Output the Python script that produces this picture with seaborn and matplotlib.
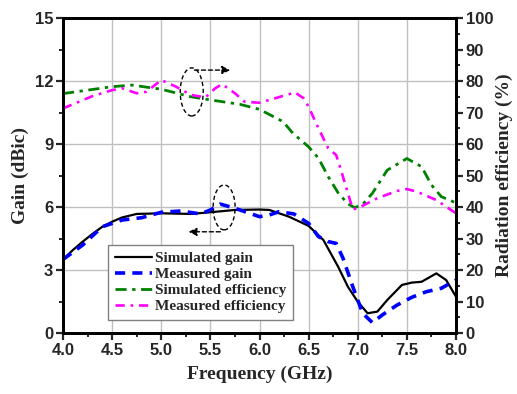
import matplotlib
matplotlib.use("Agg")
import matplotlib.pyplot as plt
import seaborn as sns
import numpy as np
import pandas as pd
from matplotlib.patches import Ellipse
from matplotlib.lines import Line2D
from matplotlib.ticker import MultipleLocator

# ---- data ----
sim_gain_f = [4.0, 4.1, 4.2, 4.3, 4.4, 4.5, 4.6, 4.75, 5.0, 5.3, 5.5, 5.75, 6.0, 6.1, 6.3,
              6.5, 6.65, 6.8, 6.9, 7.0, 7.1, 7.2, 7.3, 7.45, 7.55, 7.65, 7.8, 7.9, 8.0]
sim_gain = [3.5, 3.95, 4.35, 4.72, 5.06, 5.3, 5.5, 5.67, 5.7, 5.67, 5.75, 5.86, 5.88, 5.86, 5.54,
            5.1, 4.43, 3.16, 2.2, 1.49, 0.94, 1.02, 1.57, 2.29, 2.4, 2.44, 2.84, 2.52, 1.73]

meas_gain_f = [4.0, 4.2, 4.4, 4.6, 4.8, 5.0, 5.2, 5.4, 5.5, 5.6, 5.75, 5.9, 6.0, 6.1, 6.2, 6.35,
               6.5, 6.6, 6.7, 6.78, 6.85, 6.95, 7.05, 7.15, 7.25, 7.4, 7.55, 7.7, 7.85, 8.0]
meas_gain = [3.5, 4.19, 5.06, 5.38, 5.49, 5.75, 5.81, 5.67, 5.86, 6.14, 5.94, 5.7, 5.54, 5.62, 5.78, 5.67,
             5.22, 4.59, 4.35, 4.27, 3.56, 2.2, 0.94, 0.49, 0.86, 1.33, 1.7, 1.97, 2.13, 2.52]

sim_eff_f = [4.0, 4.5, 4.7, 5.0, 5.3, 5.5, 5.8, 5.9, 6.0, 6.24, 6.34, 6.5, 6.6, 6.7, 6.8, 6.9,
             6.97, 7.05, 7.15, 7.3, 7.5, 7.65, 7.75, 7.85, 8.0]
sim_eff = [76.0, 78.2, 78.7, 77.4, 75.0, 74.0, 72.6, 71.8, 71.0, 67.1, 63.4, 59.1, 55.5, 49.6, 44.5, 41.0,
           39.8, 40.8, 44.4, 51.7, 55.4, 52.8, 47.0, 43.3, 41.3]

meas_eff_f = [4.0, 4.3, 4.5, 4.6, 4.75, 4.85, 5.0, 5.15, 5.3, 5.45, 5.55, 5.62, 5.75, 5.85, 6.0,
              6.1, 6.3, 6.36, 6.45, 6.5, 6.6, 6.7, 6.78, 6.83, 6.9, 6.95, 7.0, 7.2, 7.4, 7.5,
              7.6, 7.8, 8.0]
meas_eff = [71.3, 75.2, 77.1, 77.7, 76.1, 76.6, 80.3, 78.2, 75.6, 74.8, 77.7, 79.0, 76.1, 73.4, 73.1,
            74.0, 75.8, 76.4, 74.5, 71.8, 65.0, 58.6, 56.5, 51.7, 44.3, 39.3, 39.6, 42.8, 45.1, 45.7,
            44.9, 42.2, 38.0]

labels = ["Simulated gain", "Measured gain", "Simulated efficiency", "Measured efficiency"]
x_ticks = [4.0, 4.5, 5.0, 5.5, 6.0, 6.5, 7.0, 7.5, 8.0]
gain_ticks = [0, 3, 6, 9, 12, 15]
eff_ticks = [0, 10, 20, 30, 40, 50, 60, 70, 80, 90, 100]

# ---- styling ----
sns.set_style("ticks")
plt.rcParams["font.family"] = ["Liberation Sans", "DejaVu Sans"]
serif = ["Liberation Serif", "DejaVu Serif"]

fig = plt.figure(figsize=(5.17, 3.94), dpi=100)
ax = fig.add_axes([0.1219, 0.1548, 0.7601, 0.7995])
ax2 = ax.twinx()

c_black, c_blue, c_green, c_mag = "black", "#0000ff", "#008000", "#ff00ff"

sns.lineplot(x=sim_gain_f, y=sim_gain, ax=ax, color=c_black, lw=1.6, sort=False)
sns.lineplot(x=meas_gain_f, y=meas_gain, ax=ax, color=c_blue, lw=2.6,
             linestyle=(0, (2.8, 2.0)), sort=False)
sns.lineplot(x=sim_eff_f, y=sim_eff, ax=ax2, color=c_green, lw=2.0,
             linestyle=(0, (4.0, 2.0, 1.2, 2.0)), sort=False)
sns.lineplot(x=meas_eff_f, y=meas_eff, ax=ax2, color=c_mag, lw=1.9,
             linestyle=(0, (3.5, 2.2, 1.0, 2.2)), sort=False)

ax.set_xlim(4.0, 8.0)
ax.set_ylim(0, 15)
ax2.set_ylim(0, 100)
ax.set_xticks(x_ticks)
ax.set_xticklabels([f"{v:.1f}" for v in x_ticks])
ax.set_yticks(gain_ticks)
ax2.set_yticks(eff_ticks)
ax.xaxis.set_minor_locator(MultipleLocator(0.25))
ax.yaxis.set_minor_locator(MultipleLocator(1.5))
ax2.yaxis.set_minor_locator(MultipleLocator(5))

ax.grid(True, which="major", color="#c0c0c0", lw=1.0)
ax.set_axisbelow(True)

for a in (ax, ax2):
    for s in a.spines.values():
        s.set_linewidth(2.0)
        s.set_color("black")
        s.set_visible(True)
    a.tick_params(which="major", direction="out", length=5, width=1.6,
                  labelsize=12, pad=2)
    a.tick_params(which="minor", direction="out", length=3, width=1.4)
    for lab in a.get_xticklabels() + a.get_yticklabels():
        lab.set_fontweight("bold")
ax.tick_params(axis="x", top=False)
ax2.tick_params(axis="y", right=True, left=False)

ax.set_xlabel("Frequency (GHz)", family=serif, fontweight="bold", fontsize=14, labelpad=6)
ax.set_ylabel("Gain (dBic)", family=serif, fontweight="bold", fontsize=14, labelpad=4)
ax2.set_ylabel("Radiation efficiency (%)", family=serif, fontweight="bold", fontsize=14, labelpad=2)

# annotations: ellipses with dashed arrows
e1 = Ellipse((5.31, 11.48), 0.234, 2.29, fill=False, ls=(0, (3, 2)), lw=1.0, ec="black", zorder=5)
ax.add_patch(e1)
ax.annotate("", xy=(5.73, 12.52), xytext=(5.31, 12.52),
            arrowprops=dict(arrowstyle="-|>", ls=(0, (3, 2)), lw=1.0, color="black",
                            mutation_scale=12), zorder=5)
e2 = Ellipse((5.64, 5.98), 0.224, 2.14, fill=False, ls=(0, (3, 2)), lw=1.0, ec="black", zorder=5)
ax.add_patch(e2)
ax.annotate("", xy=(5.25, 4.82), xytext=(5.63, 4.82),
            arrowprops=dict(arrowstyle="-|>", ls=(0, (3, 2)), lw=1.0, color="black",
                            mutation_scale=12), zorder=5)

# legend
for a in (ax, ax2):
    if a.get_legend():
        a.get_legend().remove()
handles = [
    Line2D([], [], color=c_black, lw=1.6),
    Line2D([], [], color=c_blue, lw=2.6, ls=(0, (2.8, 2.0))),
    Line2D([], [], color=c_green, lw=2.0, ls=(0, (4.0, 2.0, 1.2, 2.0))),
    Line2D([], [], color=c_mag, lw=1.9, ls=(0, (3.5, 2.2, 1.0, 2.2))),
]
leg = ax2.legend(handles, labels, loc="lower left", bbox_to_anchor=(0.1145, 0.041),
                 prop=dict(family=serif, weight="bold", size=11),
                 frameon=True, fancybox=False, edgecolor="#808080", framealpha=1,
                 handlelength=2.4, handletextpad=0.2, labelspacing=0.15,
                 borderpad=0.45, borderaxespad=0)
leg.get_frame().set_linewidth(1.0)

fig.savefig("out.png", dpi=100)
